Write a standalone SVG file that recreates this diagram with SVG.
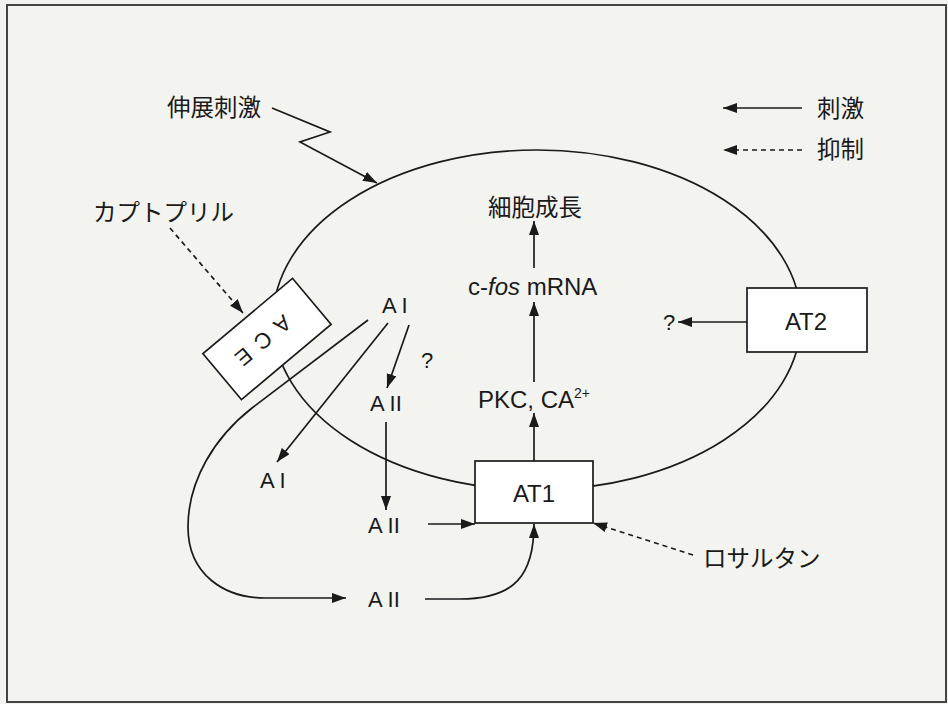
<svg xmlns="http://www.w3.org/2000/svg" width="948" height="704" viewBox="0 0 948 704">
<defs>
<style>
.ln{fill:none;stroke:#1a1a1a;stroke-width:1.7}
.ds{fill:none;stroke:#1a1a1a;stroke-width:1.7;stroke-dasharray:5 4}
.box{fill:#ffffff;stroke:#1a1a1a;stroke-width:1.7}
.lat{font-family:"Liberation Sans",Arial,sans-serif;font-size:22px;fill:#1a1a1a}
.big{font-family:"Liberation Sans",Arial,sans-serif;font-size:24px;fill:#1a1a1a}
.jp{font-family:"Noto Sans CJK JP","Noto Sans",sans-serif;font-size:23.5px;fill:#1a1a1a}
</style>
<marker id="ah" markerUnits="userSpaceOnUse" markerWidth="14" markerHeight="10" refX="14" refY="5" orient="auto">
<path d="M0,0 L14,5 L0,10 z" fill="#1a1a1a"/>
</marker>
</defs>
<rect x="0" y="0" width="948" height="704" fill="#f3f3f0"/>
<rect x="7" y="5" width="939" height="697" fill="none" stroke="#444" stroke-width="2"/>

<g id="cell">
<ellipse cx="537" cy="320" rx="264" ry="170" class="ln"/>
</g>

<g id="connectors">
<path d="M272,108 L330,132 L300,142 L377,183" class="ln" marker-end="url(#ah)"/>
<path d="M170,228 L243,313" class="ds" marker-end="url(#ah)"/>
<path d="M693,555 L593,523" class="ds" marker-end="url(#ah)"/>
<path d="M802,108 L723,108" class="ln" marker-end="url(#ah)"/>
<path d="M802,150 L723,150" class="ds" marker-end="url(#ah)"/>
<path d="M747,322 L678,322" class="ln" marker-end="url(#ah)"/>
<path d="M534,461 L534,413" class="ln" marker-end="url(#ah)"/>
<path d="M534,382 L534,302" class="ln" marker-end="url(#ah)"/>
<path d="M534,268 L534,221" class="ln" marker-end="url(#ah)"/>
<path d="M409,325 L387,388" class="ln" marker-end="url(#ah)"/>
<path d="M388,323 L277,462" class="ln" marker-end="url(#ah)"/>
<path d="M386,422 L386,510" class="ln" marker-end="url(#ah)"/>
<path d="M428,524 L475,524" class="ln" marker-end="url(#ah)"/>
<path d="M368,320 L252,408 C215,437 188,480 188,527 C188,575 225,598 265,598 L346,598" class="ln" marker-end="url(#ah)"/>
<path d="M425,599 L460,599 C515,599 534,575 534,524" class="ln" marker-end="url(#ah)"/>
</g>

<g id="ace" transform="translate(267,339) rotate(140)">
<rect x="-58.5" y="-30" width="117" height="60" class="box"/>
<text x="9" y="9" text-anchor="middle" class="lat" font-size="23" letter-spacing="10">ACE</text>
</g>

<g id="at1">
<rect x="475" y="461" width="118" height="62" class="box"/>
<text x="534" y="502" text-anchor="middle" class="big">AT1</text>
</g>

<g id="at2">
<rect x="747" y="288" width="120" height="64" class="box"/>
<text x="806" y="330" text-anchor="middle" class="big">AT2</text>
</g>

<g id="labels">
<text x="167" y="116" class="jp">伸展刺激</text>
<text x="93" y="221" class="jp">カプトプリル</text>
<text x="703" y="567" class="jp">ロサルタン</text>
<text x="817" y="117" class="jp">刺激</text>
<text x="817" y="158" class="jp">抑制</text>
<text x="535" y="216" text-anchor="middle" class="jp">細胞成長</text>
<text x="468" y="295" class="big">c-<tspan font-style="italic">fos</tspan> mRNA</text>
<text x="478" y="408" class="big">PKC, CA<tspan font-size="14" dy="-10">2+</tspan></text>
<text x="663" y="330" class="lat">?</text>
<text x="421" y="368" class="lat" font-size="20">?</text>
<text x="382" y="313" class="lat">A I</text>
<text x="370" y="411" class="lat">A II</text>
<text x="260" y="488" class="lat">A I</text>
<text x="368" y="533" class="lat">A II</text>
<text x="368" y="607" class="lat">A II</text>
</g>
</svg>
